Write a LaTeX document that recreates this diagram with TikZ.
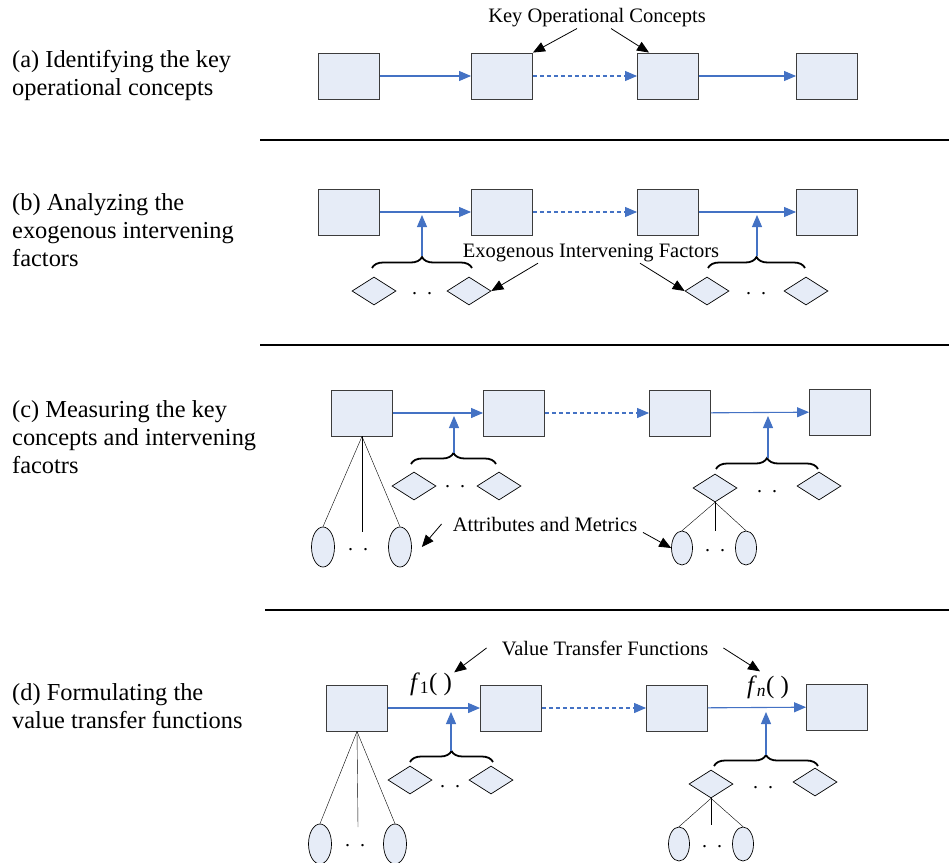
\documentclass[tikz,border=0pt]{standalone}
\usepackage{fontspec}
\setmainfont{Liberation Serif}
\usetikzlibrary{shapes.geometric, arrows.meta, positioning, decorations.pathreplacing}
\definecolor{boxfill}{HTML}{E6ECF7}
\definecolor{boxline}{HTML}{3C3C3C}
\definecolor{flowblue}{HTML}{4472C4}

\begin{document}
\begin{tikzpicture}[x=1pt, y=-1pt,
    concept/.style={rectangle, draw=boxline, fill=boxfill, line width=0.9pt,
                    minimum width=61pt, minimum height=46pt, inner sep=0pt},
    factor/.style={diamond, draw=black, fill=boxfill, line width=0.7pt,
                   minimum width=44pt, minimum height=28pt, inner sep=0pt},
    metric/.style={ellipse, draw=black, fill=boxfill, line width=0.7pt,
                   minimum width=23pt, minimum height=40pt, inner sep=0pt},
    smallmetric/.style={metric, minimum width=21pt, minimum height=34pt},
    flow/.style={-{Triangle[length=12pt, width=10pt]}, color=flowblue, line width=1.1pt},
    annot/.style={-{Triangle[length=12pt, width=10pt]}, black, line width=0.8pt},
    curly/.style={decorate, decoration={brace, amplitude=11pt}, line width=1.8pt},
    caption/.style={align=left, anchor=west, inner sep=0pt, font=\fontsize{24.4}{28}\selectfont},
    note/.style={inner sep=1pt, font=\fontsize{20.5}{24}\selectfont},
    func/.style={inner sep=0pt, font=\fontsize{25}{28}\selectfont},
    dots/.style={anchor=base, inner sep=0pt, font=\fontsize{20}{24}\selectfont},
    sep/.style={line width=1.6pt},
]
\useasboundingbox (0,0) rectangle (949,862);

% (a)
\node[caption] (capa) at (12,76) {(a) Identifying the key\\operational concepts};
\node[concept] (a1) at (349,76) {};
\node[concept] (a2) at (502,76) {};
\node[concept] (a3) at (668,76) {};
\node[concept] (a4) at (827,76) {};
\draw[flow] (a1) -- (a2);
\draw[flow, dash pattern=on 4pt off 3pt] (a2) -- (a3);
\draw[flow] (a3) -- (a4);
\node[note] (opc) at (597,18) {Key Operational Concepts};
\draw[annot] ([xshift=-20pt]opc.south) -- (a2.north east);
\draw[annot] ([xshift=14pt]opc.south) -- ([xshift=12pt]a3.north west);
\draw[sep] (260,140) -- (949,140);

% (b)
\node[caption] (capb) at (12,230) {(b) Analyzing the\\exogenous intervening\\factors};
\node[concept] (b1) at (349,212) {};
\node[concept] (b2) at (502,212) {};
\node[concept] (b3) at (668,212) {};
\node[concept] (b4) at (827,212) {};
\draw[flow] (b1) -- (b2);
\draw[flow, dash pattern=on 4pt off 3pt] (b2) -- (b3);
\draw[flow] (b3) -- (b4);
\node[factor] (bf1) at (374,291) {};
\node[factor] (bf2) at (469,291) {};
\node[factor] (bf3) at (707,291) {};
\node[factor] (bf4) at (806,291) {};
\node[dots] (bd1) at (422,294) {.\ \ .};
\node[dots] (bd2) at (756,294) {.\ \ .};
\draw[curly] (372,268) -- (472,268);
\draw[curly] (708,268) -- (805,268);
\coordinate (bt1) at (422,256);
\coordinate (bh1) at (422,215);
\coordinate (bt2) at (757,256);
\coordinate (bh2) at (757,215);
\draw[flow] (bt1) -- (bh1);
\draw[flow] (bt2) -- (bh2);
\node[note] (exo) at (591,253) {Exogenous Intervening Factors};
\draw[annot] ([xshift=-53pt]exo.south) -- (bf2.east);
\draw[annot] ([xshift=49pt]exo.south) -- (bf3.west);
\draw[sep] (260,345) -- (949,345);

% (c)
\node[caption] (capc) at (12,437) {(c) Measuring the key\\concepts and intervening\\facotrs};
\node[concept] (c1) at (362,413) {};
\node[concept] (c2) at (514,413) {};
\node[concept] (c3) at (680,413) {};
\node[concept] (c4) at (840,412) {};
\draw[flow] (c1) -- (c2);
\draw[flow, dash pattern=on 4pt off 3pt] (c2) -- (c3);
\draw[flow] (c3) -- (c4);
\node[factor] (cf1) at (414,486) {};
\node[factor] (cf2) at (499,486) {};
\node[factor] (cf3) at (715,488) {};
\node[factor] (cf4) at (819,486) {};
\node[dots] (cd1) at (455,487) {.\ \ .};
\node[dots] (cd2) at (767,492) {.\ \ .};
\draw[curly] (411,464) -- (496,464);
\draw[curly] (716,469) -- (818,469);
\coordinate (ct1) at (454,453);
\coordinate (ch1) at (454,416);
\coordinate (ct2) at (768,458);
\coordinate (ch2) at (768,416);
\draw[flow] (ct1) -- (ch1);
\draw[flow] (ct2) -- (ch2);
\node[metric] (cm1) at (323,547) {};
\node[metric] (cm2) at (400,547) {};
\node[smallmetric] (cm3) at (682,548) {};
\node[smallmetric] (cm4) at (746,548) {};
\coordinate (cmid1) at (362,532);
\coordinate (cmid2) at (715,531);
\node[dots] (cd3) at (358,550) {.\ \ .};
\node[dots] (cd4) at (715,551) {.\ \ .};
\draw (c1.south) -- (cm1.north);
\draw (c1.south) -- (cmid1);
\draw (c1.south) -- (cm2.north);
\draw (cf3.south) -- (cm3.north);
\draw (cf3.south) -- (cmid2);
\draw (cf3.south) -- (cm4.north);
\node[note] (atm) at (545,524) {Attributes and Metrics};
\draw[annot] ([xshift=-10pt]atm.west) -- ([xshift=10pt]cm2.east);
\draw[annot] ([xshift=98pt]atm.south) -- (cm3.west);
\draw[sep] (265,610) -- (949,610);

% (d)
\node[caption] (capd) at (12,706) {(d) Formulating the\\value transfer functions};
\node[concept] (d1) at (357,708) {};
\node[concept] (d2) at (511,708) {};
\node[concept] (d3) at (677,708) {};
\node[concept] (d4) at (837,707) {};
\draw[flow] (d1) -- (d2);
\draw[flow, dash pattern=on 4pt off 3pt] (d2) -- (d3);
\draw[flow] (d3) -- (d4);
\node[func] (fone) at (431,684) {\textit{f}\textsubscript{1}( )};
\node[func] (fen) at (768,687) {\textit{f}\textsubscript{\textit{n}}( )};
\node[factor] (df1) at (410,780) {};
\node[factor] (df2) at (491,780) {};
\node[factor] (df3) at (711,784) {};
\node[factor] (df4) at (815,782) {};
\node[dots] (dd1) at (450,787) {.\ \ .};
\node[dots] (dd2) at (763,788) {.\ \ .};
\draw[curly] (410,762) -- (493,762);
\draw[curly] (714,766) -- (818,766);
\coordinate (dt1) at (451,751);
\coordinate (dh1) at (451,712);
\coordinate (dt2) at (766,755);
\coordinate (dh2) at (766,712);
\draw[flow] (dt1) -- (dh1);
\draw[flow] (dt2) -- (dh2);
\node[metric] (dm1) at (320,844) {};
\node[metric] (dm2) at (395,844) {};
\node[smallmetric] (dm3) at (679,844) {};
\node[smallmetric] (dm4) at (743,844) {};
\coordinate (dmid1) at (358,827);
\coordinate (dmid2) at (711,825);
\node[dots] (dd3) at (355,846) {.\ \ .};
\node[dots] (dd4) at (712,847) {.\ \ .};
\draw (d1.south) -- (dm1.north);
\draw (d1.south) -- (dmid1);
\draw (d1.south) -- (dm2.north);
\draw (df3.south) -- (dm3.north);
\draw (df3.south) -- (dmid2);
\draw (df3.south) -- (dm4.north);
\node[note] (vtf) at (605,648) {Value Transfer Functions};
\draw[annot] ([xshift=-14pt]vtf.west) -- ([xshift=2pt]fone.north east);
\draw[annot] ([xshift=14pt]vtf.east) -- ([xshift=-8pt, yshift=4pt]fen.north);
\end{tikzpicture}
\end{document}
